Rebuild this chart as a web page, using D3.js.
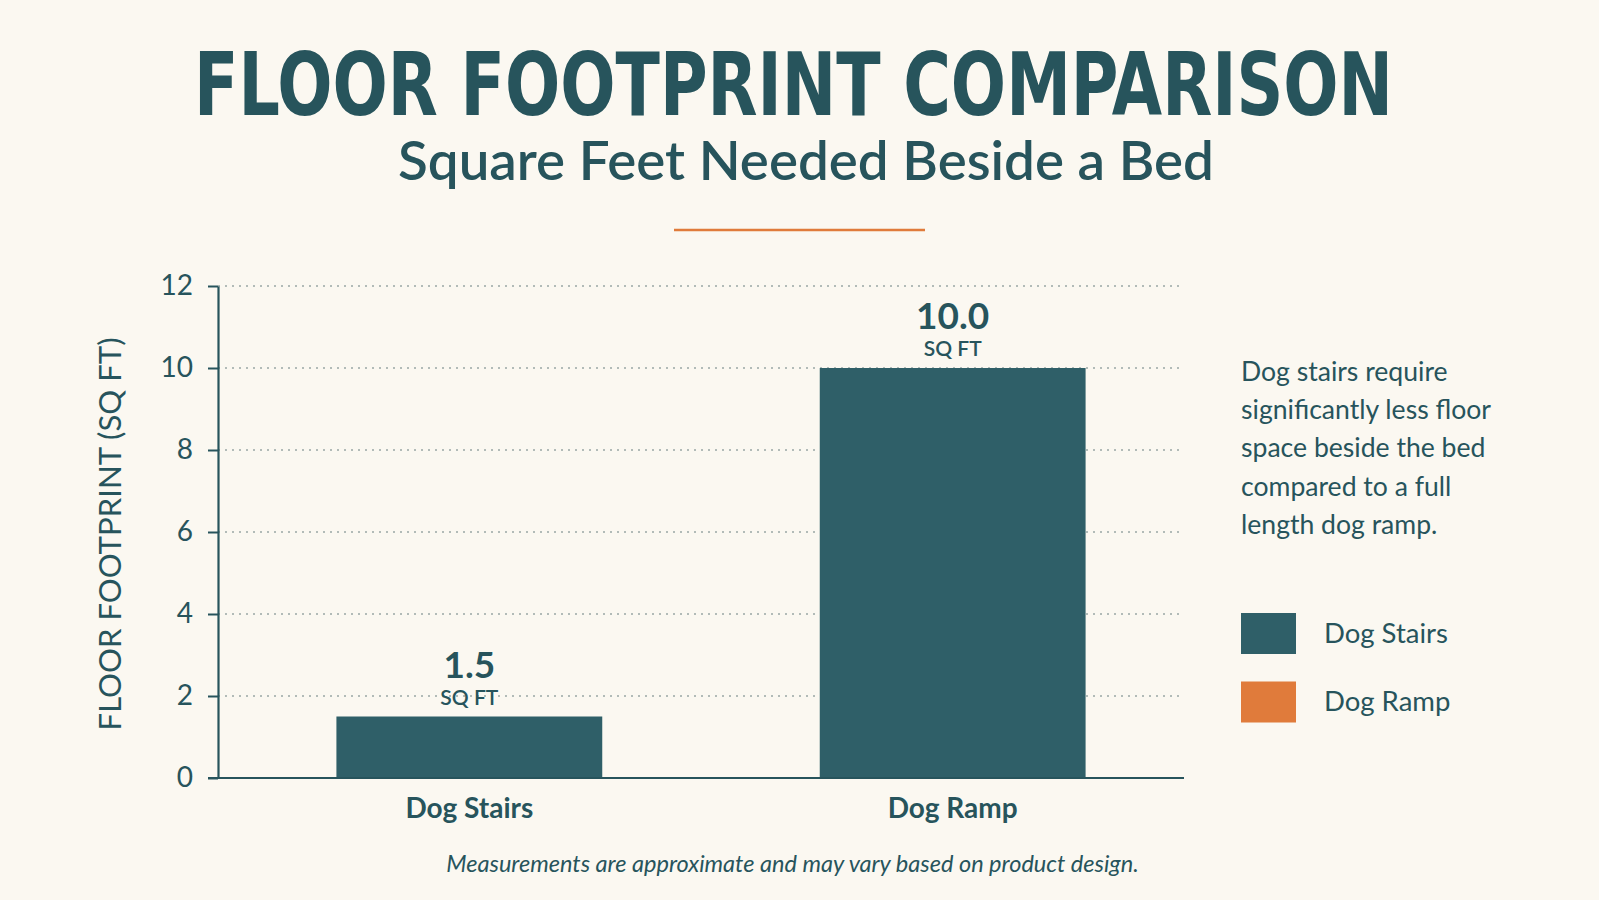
<!DOCTYPE html>
<html>
<head>
<meta charset="utf-8">
<script src="https://cdn.jsdelivr.net/npm/d3@7"></script>
<style>
  html, body { margin: 0; padding: 0; background: #fbf8f1; }
  svg { display: block; }
</style>
</head>
<body>
<svg id="chart" width="1599" height="900"></svg>
<script>
// ---- data ----
const titleText = "FLOOR FOOTPRINT COMPARISON";
const subtitleText = "Square Feet Needed Beside a Bed";
const categories = ["Dog Stairs", "Dog Ramp"];
const values = [1.5, 10.0];
const valueUnit = "SQ FT";
const yTicks = [0, 2, 4, 6, 8, 10, 12];
const yAxisTitle = "FLOOR FOOTPRINT (SQ FT)";
const legendLabels = ["Dog Stairs", "Dog Ramp"];
const noteLines = ["Dog stairs require", "significantly less floor", "space beside the bed", "compared to a full", "length dog ramp."];
const footnote = "Measurements are approximate and may vary based on product design.";

// ---- styles ----
const BG = "#fbf8f1";
const TEAL = "#2f5f68";
const TEXT = "#27545c";
const ORANGE = "#e07b3b";
const legendColors = [TEAL, ORANGE];
const SANS = "Lato, 'Open Sans', sans-serif";

const svg = d3.select("#chart");
svg.append("rect").attr("width", 1599).attr("height", 900).attr("fill", BG);

function fitWidth(sel, w) {
  const l = sel.node().getComputedTextLength();
  const fs = parseFloat(sel.attr("font-size"));
  if (l > 0) sel.attr("font-size", fs * w / l);
  return sel;
}

// Title (condensed, horizontally scaled to the reference width)
const title = svg.append("text")
  .attr("x", 0).attr("y", 0)
  .attr("text-anchor", "middle")
  .attr("font-family", "'DejaVu Sans Condensed', 'Liberation Sans Narrow', sans-serif")
  .attr("font-stretch", "condensed")
  .attr("font-weight", 700)
  .attr("font-size", 88)
  .attr("fill", TEXT)
  .text(titleText);
{
  const l = title.node().getComputedTextLength();
  title.attr("transform", `translate(793.5,115) scale(${1199 / l},1)`);
}

// Subtitle
const sub = svg.append("text")
  .attr("x", 806).attr("y", 180)
  .attr("text-anchor", "middle")
  .attr("font-family", SANS)
  .attr("font-weight", 600)
  .attr("font-size", 48)
  .attr("fill", TEXT)
  .text(subtitleText);
fitWidth(sub, 816);

// Orange divider
svg.append("line")
  .attr("x1", 674).attr("x2", 925).attr("y1", 230).attr("y2", 230)
  .attr("stroke", ORANGE).attr("stroke-width", 2.5);

// ---- scales ----
const axisX = 218, axisEnd = 1184;
const y = d3.scaleLinear().domain([0, 12]).range([778, 286]);
const x = d3.scaleBand().domain(categories).range([218, 1204])
  .paddingInner(0.45).paddingOuter(0.245);

// gridlines
svg.append("g").selectAll("line")
  .data(yTicks.filter(d => d > 0))
  .join("line")
  .attr("x1", axisX).attr("x2", axisEnd)
  .attr("y1", d => y(d)).attr("y2", d => y(d))
  .attr("stroke", "#9aa7a5")
  .attr("stroke-width", 1.4)
  .attr("stroke-dasharray", "2,5");

// bars
svg.append("g").selectAll("rect")
  .data(values)
  .join("rect")
  .attr("x", (d, i) => x(categories[i]))
  .attr("width", x.bandwidth())
  .attr("y", d => y(d))
  .attr("height", d => y(0) - y(d))
  .attr("fill", TEAL);

// y axis
const yAxis = svg.append("g")
  .attr("transform", `translate(${axisX},0)`)
  .call(d3.axisLeft(y).tickValues(yTicks).tickFormat(d3.format("d"))
    .tickSize(10).tickSizeOuter(0).tickPadding(15));
yAxis.select(".domain").attr("stroke", TEXT).attr("stroke-width", 2.2);
yAxis.selectAll(".tick line").attr("stroke", TEXT).attr("stroke-width", 2);
yAxis.selectAll(".tick text")
  .attr("font-family", SANS).attr("font-size", 28).attr("fill", TEXT);

// x axis baseline
svg.append("line")
  .attr("x1", axisX - 10).attr("x2", axisEnd)
  .attr("y1", y(0)).attr("y2", y(0))
  .attr("stroke", TEXT).attr("stroke-width", 2.2);

// category labels
svg.append("g").selectAll("text")
  .data(categories)
  .join("text")
  .attr("x", d => x(d) + x.bandwidth() / 2)
  .attr("y", 818)
  .attr("text-anchor", "middle")
  .attr("font-family", SANS)
  .attr("font-weight", 700)
  .attr("font-size", 28)
  .attr("fill", TEXT)
  .text(d => d);

// value labels
const vl = svg.append("g").selectAll("g")
  .data(values)
  .join("g");
vl.append("text")
  .attr("x", (d, i) => x(categories[i]) + x.bandwidth() / 2)
  .attr("y", d => y(d) - 39)
  .attr("text-anchor", "middle")
  .attr("font-family", SANS)
  .attr("font-weight", 700)
  .attr("font-size", 37)
  .attr("fill", TEXT)
  .text(d => d3.format(".1f")(d));
vl.append("text")
  .attr("x", (d, i) => x(categories[i]) + x.bandwidth() / 2)
  .attr("y", d => y(d) - 12)
  .attr("text-anchor", "middle")
  .attr("font-family", SANS)
  .attr("font-weight", 600)
  .attr("font-size", 21)
  .attr("fill", TEXT)
  .text(valueUnit);

// y axis title
const yt = svg.append("text")
  .attr("transform", "translate(121,534) rotate(-90)")
  .attr("text-anchor", "middle")
  .attr("font-family", SANS)
  .attr("font-size", 33)
  .attr("fill", TEXT)
  .text(yAxisTitle);
fitWidth(yt, 393);

// annotation
const note = svg.append("g").selectAll("text")
  .data(noteLines)
  .join("text")
  .attr("x", 1241)
  .attr("y", (d, i) => 380.7 + i * 38.3)
  .attr("font-family", SANS)
  .attr("font-size", 23)
  .attr("fill", TEXT)
  .text(d => d);
{
  const n = note.filter((d, i) => i === 1).node();
  const l = n.getComputedTextLength();
  note.attr("font-size", 23 * 250 / l);
}

// legend
const lg = svg.append("g").selectAll("g")
  .data(legendLabels)
  .join("g")
  .attr("transform", (d, i) => `translate(1241,${613 + i * 68.5})`);
lg.append("rect").attr("width", 55).attr("height", 41)
  .attr("fill", (d, i) => legendColors[i]);
const lgt = lg.append("text")
  .attr("x", 83).attr("y", 29.7)
  .attr("font-family", SANS)
  .attr("font-size", 25)
  .attr("fill", TEXT)
  .text(d => d);
{
  const l = lgt.nodes()[0].getComputedTextLength();
  lgt.attr("font-size", 25 * 124 / l);
}

// footnote
const fn = svg.append("text")
  .attr("x", 792.5).attr("y", 872)
  .attr("text-anchor", "middle")
  .attr("font-family", SANS)
  .attr("font-style", "italic")
  .attr("font-size", 21)
  .attr("fill", TEXT)
  .text(footnote);
fitWidth(fn, 693);
</script>
</body>
</html>
